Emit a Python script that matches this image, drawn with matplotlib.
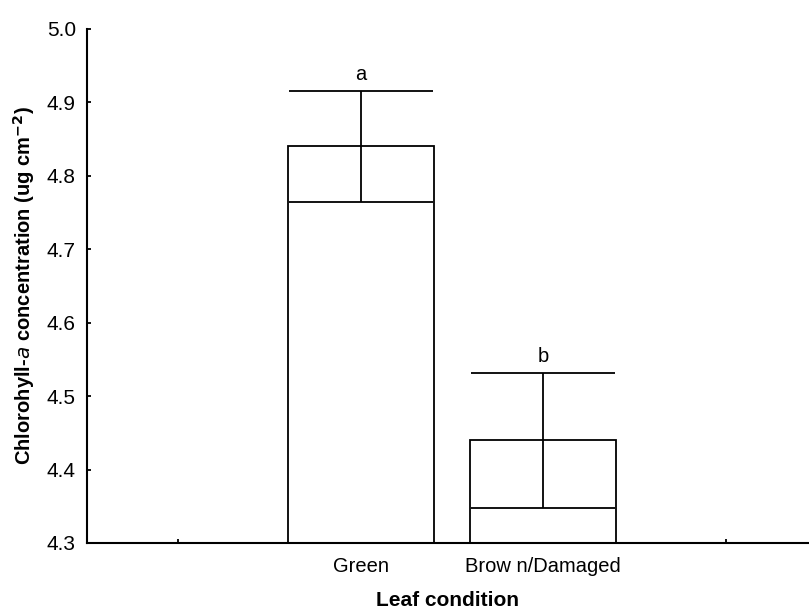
import matplotlib
matplotlib.use("Agg")
import matplotlib.pyplot as plt

# Chlorophyll-a by leaf condition
categories = ["Green", "Brow n/Damaged"]
means = [4.84, 4.44]
errors = [0.075, 0.092]
letters = ["a", "b"]
y_ticks = [4.3, 4.4, 4.5, 4.6, 4.7, 4.8, 4.9, 5.0]

plt.rcParams["font.family"] = ["Liberation Sans", "DejaVu Sans"]

fig = plt.figure(figsize=(8.09, 6.12), dpi=100)
ax = fig.add_axes([87 / 809, 1 - 543 / 612, (808 - 87) / 809, (543 - 29) / 612])

positions = [1, 2]
ax.bar(positions, [m - 4.3 for m in means], bottom=4.3, width=0.8,
       color="white", edgecolor="black", linewidth=1.3, zorder=2)
ax.errorbar(positions, means, yerr=errors, fmt="none", ecolor="black",
            elinewidth=1.3, capsize=52, capthick=1.3, zorder=3)

for x, m, e, t in zip(positions, means, errors, letters):
    ax.annotate(t, (x, m + e), xytext=(0, 5), textcoords="offset points",
                ha="center", va="bottom", fontsize=14.5)

ax.set_xlim(-0.5, 3.45)
ax.set_ylim(4.3, 5.0)
ax.set_xticks([0, 1, 2, 3])
ax.set_xticklabels(["", categories[0], categories[1], ""], fontsize=14.5)
ax.set_yticks(y_ticks)
ax.set_yticklabels([f"{v:.1f}" for v in y_ticks], fontsize=15)
ax.tick_params(axis="both", direction="in", length=3, width=1.3)
ax.tick_params(axis="y", pad=8)
ax.tick_params(axis="x", pad=10)

for s in ["top", "right"]:
    ax.spines[s].set_visible(False)
for s in ["left", "bottom"]:
    ax.spines[s].set_linewidth(1.5)

ax.set_xlabel("Leaf condition", fontsize=15, fontweight="bold", labelpad=11)
ax.set_ylabel(r"Chlorohyll-$\bf{\it{a}}$ concentration (ug cm$\bf{^{-2}}$)",
              fontsize=14.5, fontweight="bold", labelpad=7)

fig.savefig("out.png", dpi=100)
